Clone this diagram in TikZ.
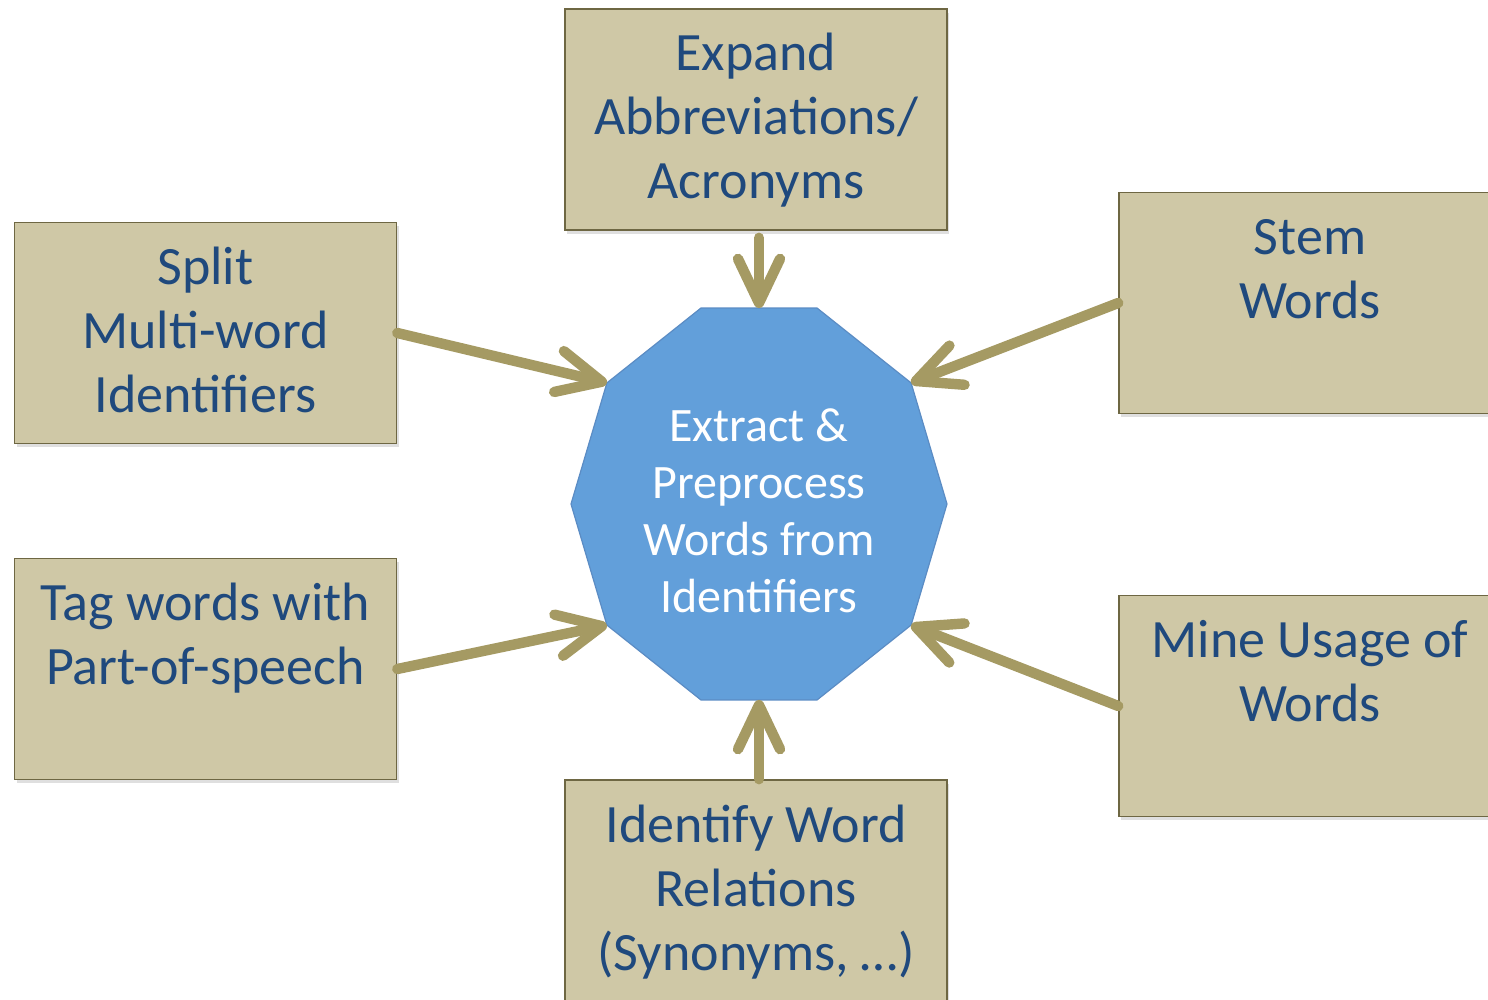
\documentclass[tikz,border=0pt]{standalone}
\usepackage{fontspec}
\setmainfont{Carlito}
\usepackage{xcolor}
\usetikzlibrary{arrows.meta, calc, shadows}
\definecolor{sand}{HTML}{CFC8A6}
\definecolor{sandline}{HTML}{6E6743}
\definecolor{ink}{HTML}{1F497D}
\definecolor{sky}{HTML}{629FDA}
\definecolor{skyline}{HTML}{5B8CC4}
\definecolor{olive}{HTML}{A59A63}

\begin{document}
\begin{tikzpicture}[
    x=0.5pt, y=-0.5pt,
    task/.style={draw=sandline, fill=sand, line width=0.8pt,
        minimum width=191pt, minimum height=110.5pt,
        text width=185pt, align=flush center, inner xsep=0pt, inner ysep=0pt,
        text height=31pt, text depth=79.5pt,
        font=\fontsize{27}{32}\selectfont, text=ink,
        drop shadow={shadow xshift=1pt, shadow yshift=-1.8pt, opacity=0.25}},
    arr/.style={draw=olive, line width=5.2pt, line cap=round,
        -{Straight Barb[length=22pt, width=21pt, round]}},
    hub/.style={font=\fontsize{24}{28.5}\selectfont, text=white, align=center},
  ]
  \useasboundingbox (0,0) rectangle (1488,1000);
  \coordinate (mid) at (759,504);
  \foreach \i in {0,...,9}
    \coordinate (c\i) at ($(mid)+(\i*36:188 and 206)$);
  \filldraw[fill=sky, draw=skyline, line width=0.6pt]
    (c0) \foreach \i in {1,...,9} {-- (c\i)} -- cycle;
  \coordinate (top) at ($(c7)!0.5!(c8)$);
  \coordinate (bot) at ($(c2)!0.5!(c3)$);
  \node[hub] (core) at (759,511) {Extract \&\\Preprocess\\Words from\\Identifiers};
  \node[task] (expand) at (756,119.5) {Expand\\Abbreviations/\\Acronyms};
  \node[task] (split) at (205.5,333) {Split\\Multi-word\\Identifiers};
  \node[task] (tag) at (205.5,669) {Tag words with\\Part-of-speech};
  \node[task] (stem) at (1310,303) {Stem\\Words};
  \node[task] (mine) at (1310,706) {Mine Usage of\\Words};
  \node[task] (relate) at (756,890.5) {Identify Word\\Relations\\(Synonyms, …)};
  \draw[arr, shorten <=3.5pt] (expand.south -| top) -- (top);
  \draw[arr] (split.east) -- (c6);
  \draw[arr] (tag.east) -- (c4);
  \draw[arr] (stem.west) -- (c9);
  \draw[arr] (mine.west) -- (c1);
  \draw[arr] (relate.north -| bot) -- (bot);
\end{tikzpicture}
\end{document}
